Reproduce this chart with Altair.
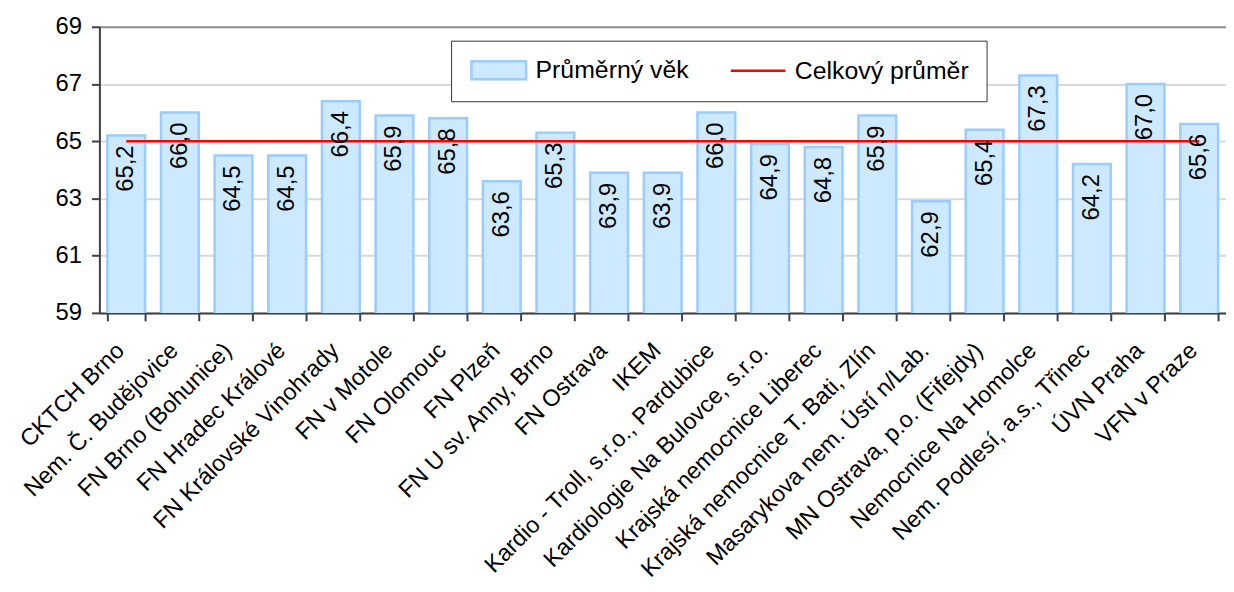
import altair as alt
import pandas as pd

nemocnice = [
    "CKTCH Brno", "Nem. Č. Budějovice", "FN Brno (Bohunice)", "FN Hradec Králové",
    "FN Královské Vinohrady", "FN v Motole", "FN Olomouc", "FN Plzeň",
    "FN U sv. Anny, Brno", "FN Ostrava", "IKEM", "Kardio - Troll, s.r.o., Pardubice",
    "Kardiologie Na Bulovce, s.r.o.", "Krajská nemocnice Liberec",
    "Krajská nemocnice T. Bati, Zlín", "Masarykova nem. Ústí n/Lab.",
    "MN Ostrava, p.o. (Fifejdy)", "Nemocnice Na Homolce", "Nem. Podlesí, a.s., Třinec",
    "ÚVN Praha", "VFN v Praze",
]
prumerny_vek = [65.2, 66.0, 64.5, 64.5, 66.4, 65.9, 65.8, 63.6, 65.3, 63.9, 63.9,
                66.0, 64.9, 64.8, 65.9, 62.9, 65.4, 67.3, 64.2, 67.0, 65.6]
celkovy_prumer = 65.0
y_ticks = [59, 61, 63, 65, 67, 69]
serie = ["Průměrný věk", "Celkový průměr"]

df = pd.DataFrame({
    "nemocnice": nemocnice,
    "vek": prumerny_vek,
    "prumer": [celkovy_prumer] * len(nemocnice),
})
# legend helper rows (one per series), drawn invisibly
df_leg = pd.DataFrame({
    "nemocnice": [nemocnice[0], nemocnice[0]],
    "vek": [prumerny_vek[0], celkovy_prumer],
    "serie": serie,
})

FONT = "Liberation Sans"
AX = "#404040"
BAR_FILL = "#cce9ff"
BAR_STROKE = "#99ccff"
RED = "#ff0000"

x_enc = alt.X(
    "nemocnice:N", sort=nemocnice, title=None,
    scale=alt.Scale(paddingInner=0.296, paddingOuter=0.148),
    axis=alt.Axis(labelAngle=-45, labelAlign="right", labelBaseline="middle",
                  labelFontSize=23.5, labelFont=FONT, labelColor="black",
                  labelPadding=26, labelOffset=-6, labelLimit=1000, labelOverlap=False,
                  tickSize=8, tickWidth=2, tickColor=AX, tickBand="extent",
                  domainColor=AX, domainWidth=2, grid=False),
)
y_scale = alt.Scale(domain=[59, 69], zero=False, nice=False)
y_axis = alt.Axis(values=y_ticks, format="d", title=None, labelFontSize=24,
                  labelFont=FONT, labelColor="black", labelPadding=10,
                  tickSize=8, tickWidth=2, tickColor=AX, domainColor=AX,
                  domainWidth=2, gridWidth=2,
                  gridColor=alt.condition("datum.value === 69",
                                          alt.value("#8c8c8c"), alt.value("#d9d9d9")))

legend = alt.Legend(
    title=None, orient="none", legendX=354, legendY=14, direction="horizontal",
    columns=2, columnPadding=36, padding=17, fillColor="white",
    strokeColor="#333333", labelFont=FONT, labelFontSize=25, labelColor="black",
    labelLimit=1000, symbolSize=324, labelOffset=43, symbolOpacity=1,
    symbolStrokeWidth=2.5,
)

bars = alt.Chart(df).mark_bar(fill=BAR_FILL, stroke=BAR_STROKE, strokeWidth=2.5,
                              clip=True).encode(
    x=x_enc,
    y=alt.Y("vek:Q", scale=y_scale, axis=y_axis),
)

line = alt.Chart(df).mark_line(color=RED, strokeWidth=2.5).encode(
    x=x_enc,
    y=alt.Y("prumer:Q", scale=y_scale, axis=y_axis),
)

leg_pts = alt.Chart(df_leg).mark_point(opacity=0, filled=True).encode(
    x=x_enc,
    y=alt.Y("vek:Q", scale=y_scale, axis=y_axis),
    fill=alt.Fill("serie:N", sort=serie,
                  scale=alt.Scale(domain=serie, range=[BAR_FILL, "transparent"]),
                  legend=legend),
    stroke=alt.Stroke("serie:N", sort=serie,
                      scale=alt.Scale(domain=serie, range=[BAR_STROKE, RED]),
                      legend=legend),
    shape=alt.Shape("serie:N", sort=serie,
                    scale=alt.Scale(domain=serie,
                                    range=["M-1,-1H5.11V1H-1Z", "M-1,0H5.11"]),
                    legend=legend),
)

labels = alt.Chart(df).transform_calculate(
    txt="replace(format(datum.vek, '.1f'), '.', ',')"
).mark_text(angle=270, align="right", baseline="middle", yOffset=10,
            fontSize=24, font=FONT, color="black").encode(
    x=x_enc,
    y=alt.Y("vek:Q", scale=y_scale, axis=y_axis),
    text="txt:N",
)

chart = alt.layer(bars, line, labels, leg_pts).properties(
    width=1134, height=288,
    padding={"left": 92, "top": 17, "right": 0, "bottom": 271},
    autosize=alt.AutoSizeParams(type="none"),
    background="white",
).configure_view(strokeWidth=0)

chart.save("out.html", embed_options={"renderer": "svg", "actions": False})
